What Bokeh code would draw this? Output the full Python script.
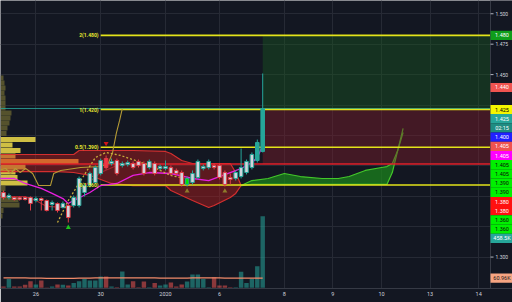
from bokeh.plotting import figure
from bokeh.models import Range1d, FixedTicker, Grid
from bokeh.core.properties import value
from bokeh.embed import file_html
from bokeh.resources import INLINE

# ---------------- data ----------------
bars = list(range(49))
opens = [1.3531, 1.3490, 1.3490, 1.3488, 1.3490, 1.3490, 1.3465, 1.3481, 1.3465, 1.3432,
         1.3440, 1.3407, 1.3424, 1.3424, 1.3424, 1.3531, 1.3588, 1.3613, 1.3687, 1.3810,
         1.3769, 1.3794, 1.3753, 1.3761, 1.3769, 1.3786, 1.3769, 1.3736, 1.3769, 1.3728,
         1.3728, 1.3736, 1.3712, 1.3695, 1.3597, 1.3613, 1.3654, 1.3728, 1.3736, 1.3753,
         1.3753, 1.3695, 1.3654, 1.3646, 1.3662, 1.3695, 1.3736, 1.3794, 1.3868]
closes = [1.3490, 1.3506, 1.3473, 1.3475, 1.3473, 1.3440, 1.3481, 1.3465, 1.3383, 1.3449,
          1.3383, 1.3440, 1.3325, 1.3490, 1.3646, 1.3588, 1.3687, 1.3736, 1.3794, 1.3736,
          1.3786, 1.3687, 1.3769, 1.3777, 1.3736, 1.3753, 1.3687, 1.3786, 1.3687, 1.3744,
          1.3744, 1.3687, 1.3687, 1.3597, 1.3646, 1.3687, 1.3786, 1.3744, 1.3786, 1.3736,
          1.3654, 1.3597, 1.3638, 1.3695, 1.3736, 1.3786, 1.3843, 1.3942, 1.4221]
highs = [1.3547, 1.3523, 1.3498, 1.3498, 1.3498, 1.3498, 1.3498, 1.3490, 1.3473, 1.3465,
         1.3449, 1.3457, 1.3440, 1.3506, 1.3662, 1.3605, 1.3703, 1.3753, 1.3810, 1.3835,
         1.3810, 1.3810, 1.3786, 1.3794, 1.3786, 1.3802, 1.3786, 1.3802, 1.3786, 1.3761,
         1.3794, 1.3753, 1.3728, 1.3712, 1.3662, 1.3712, 1.3802, 1.3761, 1.3802, 1.3769,
         1.3769, 1.3712, 1.3687, 1.3712, 1.3892, 1.3802, 1.3860, 1.3966, 1.4509]
lows = [1.3473, 1.3473, 1.3465, 1.3465, 1.3465, 1.3383, 1.3449, 1.3383, 1.3375, 1.3383,
        1.3366, 1.3399, 1.3284, 1.3407, 1.3407, 1.3498, 1.3572, 1.3597, 1.3671, 1.3720,
        1.3753, 1.3671, 1.3736, 1.3744, 1.3720, 1.3736, 1.3671, 1.3720, 1.3671, 1.3712,
        1.3712, 1.3671, 1.3671, 1.3580, 1.3580, 1.3597, 1.3638, 1.3712, 1.3720, 1.3720,
        1.3638, 1.3580, 1.3597, 1.3629, 1.3646, 1.3679, 1.3720, 1.3777, 1.3860]
volume_k = [8, 55, 8, 8, 19, 42, 21, 46, 2, 8, 21, 19, 15, 30, 42, 55, 46, 46, 71, 71,
            8, 3, 103, 21, 42, 3, 40, 3, 30, 15, 21, 33, 8, 21, 40, 84, 84, 55, 3, 67,
            15, 15, 4, 4, 101, 30, 57, 136, 451]
volume_ma_k = [63, 63, 62, 62, 62, 61, 61, 61, 60, 60, 60, 60, 60, 60, 61, 61, 61, 62, 62, 62,
               62, 62, 63, 63, 63, 62, 62, 62, 62, 61, 61, 61, 61, 61, 61, 62, 62, 62, 62, 62,
               62, 61, 61, 61, 61, 61, 61, 61, 61]
special_fill = {19: "#f23645", 34: "#00e600", 47: "#26a69a", 48: "#26a69a"}

date_ticks = [6, 18, 30, 40, 52, 61, 70, 79, 88]
date_labels = ["26", "30", "2020", "6", "8", "9", "10", "13", "14"]
price_ticks = [1.500, 1.475, 1.450, 1.300]
price_tick_labels = ["1.500", "1.475", "1.450", "1.300"]
grid_prices = [1.300, 1.325, 1.350, 1.375, 1.400, 1.425, 1.450, 1.475, 1.500]

fib_names = ["2", "1", "0.5", "0"]
fib_prices = [1.4822, 1.4213, 1.3903, 1.3593]
fib_values = ["1.480", "1.420", "1.390", "1.360"]
stop_price = 1.3765
fib_start_bar = 18

cloud_bars = [-1, 10, 13, 14, 16, 20, 24, 30, 31, 33, 35, 38, 39, 42, 43, 44, 46, 49, 52, 55,
              59, 62, 64, 67, 70, 71, 72, 73, 74]
span_a = [1.3703, 1.3703, 1.3695, 1.3687, 1.3671, 1.3605, 1.3588, 1.3588, 1.3547, 1.3506,
          1.3465, 1.3407, 1.3424, 1.3490, 1.3523, 1.3588, 1.3629, 1.3646, 1.3687, 1.3662,
          1.3646, 1.3646, 1.3662, 1.3712, 1.3736, 1.3744, 1.3769, 1.3876, 1.4057]
span_b = [1.3843, 1.3843, 1.3843, 1.3876, 1.3876, 1.3876, 1.3876, 1.3868, 1.3851, 1.3794,
          1.3769, 1.3769, 1.3769, 1.3769, 1.3695, 1.3588, 1.3597, 1.3597, 1.3597, 1.3597,
          1.3597, 1.3597, 1.3597, 1.3597, 1.3597, 1.3597, 1.3695, 1.3876, 1.4024]

mag_bars = [-1, 2, 4, 7, 9, 11, 12, 13, 16, 18, 21, 24, 27, 31, 35, 38, 40, 42, 44, 46, 47, 48]
mag_line = [1.3646, 1.3646, 1.3605, 1.3564, 1.3523, 1.3481, 1.3440, 1.3465, 1.3531, 1.3588,
            1.3605, 1.3671, 1.3695, 1.3687, 1.3646, 1.3629, 1.3662, 1.3695, 1.3728, 1.3777,
            1.3818, 1.3917]
maroon_bars = [-1, 4, 6, 8, 12, 13, 14, 18, 21]
maroon_line = [1.3498, 1.3498, 1.3465, 1.3416, 1.3407, 1.3424, 1.3547, 1.3695, 1.3753]
wave_bars = [-1, 0.4, 1.3, 2.2, 3.1, 4.1, 5.4, 6.5, 8.7, 9.3, 10.6, 14.3, 18, 19.4, 20.2, 20.9, 21.5, 22]
wave_line = [1.3712, 1.3728, 1.3687, 1.3728, 1.3695, 1.3728, 1.3687, 1.3588, 1.3588, 1.3687,
             1.3712, 1.3736, 1.3744, 1.3769, 1.3860, 1.4019, 1.4123, 1.4221]
dash_bars = [10, 12, 14.3, 17, 19, 21.7, 24.4, 27.2, 30.9, 33.7]
dash_line = [1.3284, 1.3465, 1.3629, 1.3818, 1.3860, 1.3835, 1.3794, 1.3753, 1.3671, 1.3646]

buy_mark_bars = [12]
buy_mark_prices = [1.3243]
olive_mark_bars = [34, 41]
olive_mark_prices = [1.3542, 1.3542]
sell_mark_bars = [19]
sell_mark_prices = [1.3934]

profile_price = [1.4472, 1.4431, 1.4390, 1.4349, 1.4308, 1.4266, 1.4225, 1.4184, 1.4143, 1.4102,
                 1.4061, 1.4016, 1.3966, 1.3921, 1.3876, 1.3831, 1.3786, 1.3740, 1.3699, 1.3654,
                 1.3609, 1.3564, 1.3518, 1.3473, 1.3428, 1.3383, 1.3338]
profile_vol = [3, 4, 5, 4, 5, 5, 5, 11, 10, 9, 7, 6, 35, 12, 20, 15, 78, 25, 15, 17,
               27, 5, 4, 18, 19, 3, 2]
profile_zone = ["out"] * 12 + ["va"] * 4 + ["poc"] + ["va"] * 4 + ["out"] * 6

badge_texts = ["1.480", "1.440", "1.425", "1.425", "02:15", "1.400", "1.405", "1.405", "1.405",
               "1.405", "1.390", "1.390", "1.380", "1.380", "1.360", "1.360", "458.5K", "60.96K"]
badge_values = [1.4822, 1.4394, 1.4213, 1.4221, 1.4221, 1.400, 1.405, 1.405, 1.405,
                1.405, 1.390, 1.390, 1.380, 1.380, 1.360, 1.360, 451, 61]
badge_on_volume = [False] * 16 + [True, True]
badge_bg = ["#0f9d1a", "#f05350", "#f5f500", "#26a69a", "#1f8c82", "#2020ff", "#f05350", "#ff00ff",
            "#00f000", "#00f000", "#00f000", "#00f000", "#ff1010", "#ff1010", "#00f000", "#00f000",
            "#26a69a", "#f7a582"]
badge_fg = ["#ffffff", "#ffffff", "#000000", "#ffffff", "#ffffff", "#ffffff", "#ffffff", "#ffffff",
            "#0a0a0a", "#0a0a0a", "#0a0a0a", "#0a0a0a", "#ffffff", "#ffffff", "#0a0a0a", "#0a0a0a",
            "#ffffff", "#1a1a1a"]

# ---------------- layout ----------------
BG = "#131722"
GRID = "#262a35"
W, H, AXIS_H = 512, 302, 14
FRAME_H = H - AXIS_H
PX_PER_BAR = 5.4
X0 = -3 / PX_PER_BAR
X1 = X0 + W / PX_PER_BAR
STRIP = X0 + 490 / PX_PER_BAR
Y1 = 1.5109
PRICE_PER_PX = 0.000822
Y0 = Y1 - FRAME_H * PRICE_PER_PX
V0, V1 = -4.4, 1810.0

def bx(px):
    return X0 + px / PX_PER_BAR

p = figure(width=W, height=H, x_range=Range1d(X0, X1), y_range=Range1d(Y0, Y1),
           output_backend="svg", toolbar_location=None, y_axis_location=None,
           min_border_left=0, min_border_right=0, min_border_top=0, min_border_bottom=AXIS_H,
           background_fill_color=BG, border_fill_color=BG, outline_line_color=None)
p.extra_y_ranges = {"vol": Range1d(V0, V1)}

ax = p.xaxis[0]
ax.ticker = FixedTicker(ticks=date_ticks)
ax.major_label_overrides = {t: l for t, l in zip(date_ticks, date_labels)}
ax.major_tick_out = 0
ax.major_tick_in = 0
ax.minor_tick_out = 0
ax.minor_tick_in = 0
ax.major_label_standoff = 3
ax.axis_line_color = "#363a45"
ax.major_label_text_color = "#d1d4dc"
ax.major_label_text_font = "Roboto"
ax.major_label_text_font_size = "5.5px"

p.xgrid.grid_line_color = GRID
p.add_layout(Grid(dimension=1, ticker=FixedTicker(ticks=grid_prices), grid_line_color=GRID))

# volume profile
zone_color = {"out": "#55522d", "va": "#cfbf44", "poc": "#e9a63a"}
p.hbar(y=profile_price, left=X0, right=[X0 + v / PX_PER_BAR for v in profile_vol],
       height=0.0040, fill_color=[zone_color[z] for z in profile_zone], line_color=None)

# ichimoku clouds
red_idx = [i for i, b in enumerate(cloud_bars) if b <= 44]
grn_idx = [i for i, b in enumerate(cloud_bars) if b >= 44]
rx = [cloud_bars[i] for i in red_idx]
gx = [cloud_bars[i] for i in grn_idx]
p.varea(x=rx, y1=[span_a[i] for i in red_idx], y2=[span_b[i] for i in red_idx],
        fill_color="#b71c1c", fill_alpha=0.45)
p.varea(x=gx, y1=[span_a[i] for i in grn_idx], y2=[span_b[i] for i in grn_idx],
        fill_color="#1b8a1b", fill_alpha=0.7)
p.line(rx, [span_a[i] for i in red_idx], line_color="#d32f2f", line_width=1.2)
p.line(rx, [span_b[i] for i in red_idx], line_color="#d32f2f", line_width=1.2)
p.line(gx, [span_a[i] for i in grn_idx], line_color="#43c72a", line_width=1.2)
p.line(gx, [span_b[i] for i in grn_idx], line_color="#43c72a", line_width=1.2)

# target / stop boxes
last = bars[-1]
p.quad(left=last, right=STRIP, bottom=fib_prices[1], top=fib_prices[0],
       fill_color="#1b5e20", fill_alpha=0.38, line_color=None)
p.quad(left=last, right=STRIP, bottom=stop_price, top=fib_prices[1],
       fill_color="#7f1d2b", fill_alpha=0.45, line_color=None)

# volume
up = [c >= o for o, c in zip(opens, closes)]
p.vbar(x=bars, bottom=0, top=volume_k, width=0.82, y_range_name="vol",
       fill_color=["#26a69a" if u else "#ef5350" for u in up], fill_alpha=0.55, line_color=None)
p.line(bars, volume_ma_k, y_range_name="vol", line_color="#f28b6a", line_width=1.3)

# horizontal levels
p.segment(x0=X0, y0=stop_price, x1=STRIP, y1=stop_price, line_color="#e0202a", line_width=1.5)
p.segment(x0=X0, y0=closes[-1], x1=STRIP, y1=closes[-1], line_color="#26a69a", line_width=1, line_alpha=0.85)
p.segment(x0=fib_start_bar, y0=fib_prices, x1=STRIP, y1=fib_prices, line_color="#e3e31a", line_width=1.6)

# indicator lines
p.line(maroon_bars, maroon_line, line_color="#a3262f", line_width=1.2)
p.line(mag_bars, mag_line, line_color="#e91ee0", line_width=1.3)
p.line(wave_bars, wave_line, line_color="#b59b35", line_width=1.1)
p.line(dash_bars, dash_line, line_color="#c9ae3c", line_width=1.3, line_dash="2 2")

# candles
edge = ["#26a69a" if u else "#e03c46" for u in up]
fills = [special_fill.get(i, "#d1d4dc") for i in bars]
p.segment(x0=bars, y0=lows, x1=bars, y1=highs, line_color=edge, line_width=1)
p.vbar(x=bars, top=[max(o, c) for o, c in zip(opens, closes)],
       bottom=[min(o, c) for o, c in zip(opens, closes)], width=0.66,
       fill_color=fills, line_color=edge, line_width=1)

# signal markers
p.scatter(buy_mark_bars, buy_mark_prices, marker="triangle", size=5, fill_color="#1ec31e", line_color=None)
p.scatter(olive_mark_bars, olive_mark_prices, marker="triangle", size=5, fill_color="#8d7a2a", line_color=None)
p.scatter(sell_mark_bars, sell_mark_prices, marker="inverted_triangle", size=5, fill_color="#d01818", line_color=None)

# fib labels
p.text(x=fib_start_bar - 0.4, y=fib_prices, text=[f"{n}({v})" for n, v in zip(fib_names, fib_values)],
       text_align="right", text_baseline="middle", text_color="#e8e830",
       text_font=value("Roboto"), text_font_size="5px", text_font_style="bold")

# right price scale strip
p.quad(left=STRIP, right=X1, bottom=Y0, top=Y1, fill_color=BG, line_color=None)
p.segment(x0=STRIP, y0=Y0, x1=STRIP, y1=Y1, line_color="#363a45", line_width=1)
p.segment(x0=STRIP, y0=price_ticks, x1=bx(493), y1=price_ticks, line_color="#b2b5be", line_width=1)
p.text(x=bx(495), y=price_ticks, text=price_tick_labels, text_align="left", text_baseline="middle",
       text_color="#d1d4dc", text_font=value("Roboto"), text_font_size="5px")

# stacked badges
ys = []
prev = -1e9
for v, onv in zip(badge_values, badge_on_volume):
    if onv:
        y = (V1 - v) / (V1 - V0) * FRAME_H
    else:
        y = (Y1 - v) / PRICE_PER_PX
    y = max(y, prev + 9.2)
    ys.append(y)
    prev = y
badge_y = [Y1 - y * PRICE_PER_PX for y in ys]
p.rect(x=bx(501), y=badge_y, width=22 / PX_PER_BAR, height=9.2 * PRICE_PER_PX,
       fill_color=badge_bg, line_color=None)
p.text(x=bx(501.5), y=badge_y, text=badge_texts, text_align="center", text_baseline="middle",
       text_color=badge_fg, text_font=value("Roboto"), text_font_size="5.5px")

open("out.html", "w").write(file_html(p, INLINE))
